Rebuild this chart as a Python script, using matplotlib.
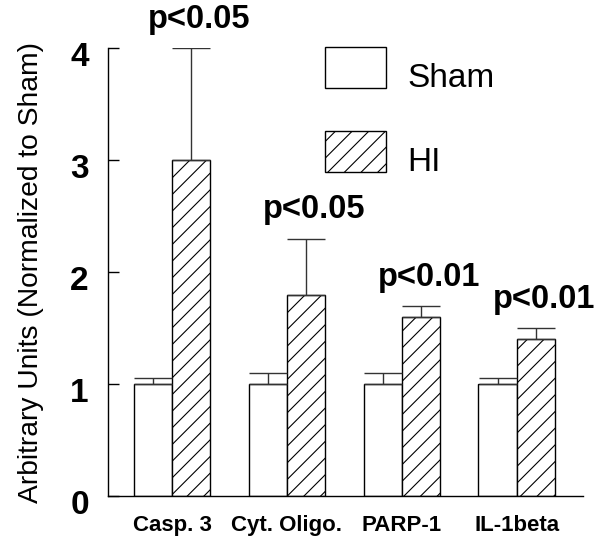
import matplotlib
matplotlib.use("Agg")
import matplotlib.pyplot as plt
import matplotlib.transforms as mtransforms
import numpy as np
from matplotlib.patches import Rectangle

plt.rcParams['font.family'] = ['Liberation Sans', 'DejaVu Sans']
plt.rcParams['hatch.linewidth'] = 0.8

categories = ["Casp. 3", "Cyt. Oligo.", "PARP-1", "IL-1beta"]
sham_vals = [1.0, 1.0, 1.0, 1.0]
sham_err = [0.05, 0.1, 0.1, 0.05]
hi_vals = [3.0, 1.8, 1.6, 1.4]
hi_err = [1.0, 0.5, 0.1, 0.1]
p_labels = ["p<0.05", "p<0.05", "p<0.01", "p<0.01"]
yticks = [0, 1, 2, 3, 4]
legend_labels = ["Sham", "HI"]

fig = plt.figure(figsize=(6.0, 5.38), dpi=100)
ax = fig.add_axes([0.1805, 0.0781, 0.7912, 0.8321])

x = np.arange(len(categories))
w = 0.333
ekw = dict(elinewidth=1.0, capthick=1.0, ecolor='#333333')
ax.bar(x - w / 2, sham_vals, w, color='white', edgecolor='black', linewidth=1.0,
       yerr=[np.zeros(4), sham_err], capsize=13.7, error_kw=ekw, zorder=2)
ax.bar(x + w / 2, hi_vals, w, color='white', edgecolor='black', linewidth=1.0,
       hatch='//', yerr=[np.zeros(4), hi_err], capsize=13.7, error_kw=ekw, zorder=2)

for i, lab in enumerate(p_labels):
    ax.text(x[i] + w / 2 + 0.07, hi_vals[i] + hi_err[i] + 0.18, lab,
            ha='center', va='baseline', fontsize=23.5, fontweight='bold', clip_on=False)

ax.set_xlim(-0.554, 3.577)
ax.set_ylim(0, 4)
ax.set_yticks(yticks)
ax.set_yticklabels([str(t) for t in yticks], fontsize=24, fontweight='bold')
ax.set_xticks(x)
ax.set_xticklabels(categories, fontsize=16, fontweight='bold')
ax.tick_params(axis='y', direction='in', length=7.9, width=1.0, pad=14)
ax.tick_params(axis='x', length=0, pad=14)
off = mtransforms.ScaledTranslation(0, -4 / 72, fig.dpi_scale_trans)
for lbl in ax.get_yticklabels():
    lbl.set_transform(lbl.get_transform() + off)
for s in ['top', 'right']:
    ax.spines[s].set_visible(False)
for s in ['left', 'bottom']:
    ax.spines[s].set_linewidth(1.0)
ax.set_ylabel("Arbitrary Units (Normalized to Sham)", fontsize=20.3, labelpad=19)

# legend drawn manually (figure pixel positions)
W, H = 600.0, 538.0
boxes = [(325, 47), (325, 131)]
hatches = [None, '//']
for (bx, by), h, lab in zip(boxes, hatches, legend_labels):
    r = Rectangle((bx / W, 1 - (by + 41) / H), 61 / W, 41 / H, transform=fig.transFigure,
                  facecolor='white', edgecolor='black', linewidth=1.0, hatch=h)
    fig.patches.append(r)
    fig.text(407 / W, 1 - (by + 40) / H, lab, fontsize=24, ha='left', va='baseline')

fig.savefig("out.png", dpi=100)
